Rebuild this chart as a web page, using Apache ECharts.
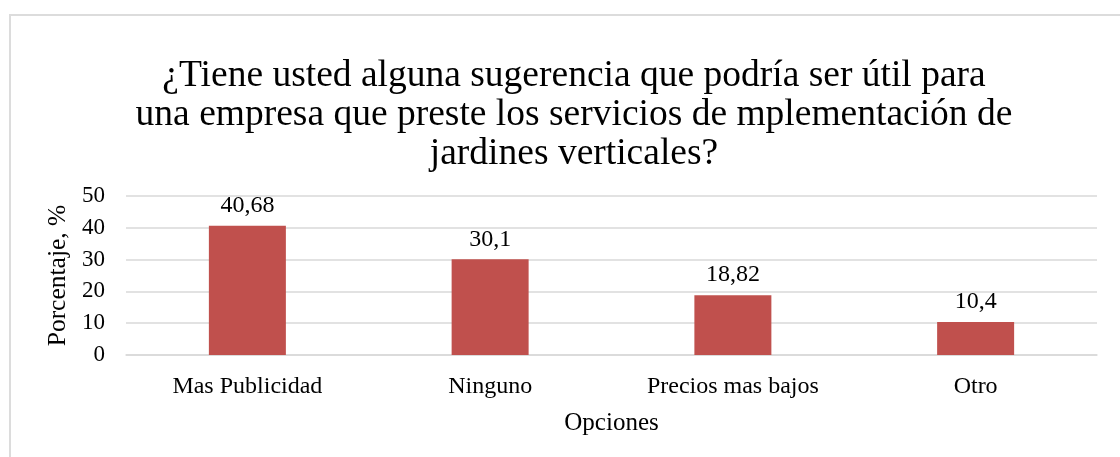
<!DOCTYPE html>
<html>
<head>
<meta charset="utf-8">
<script src="https://cdn.jsdelivr.net/npm/echarts@6/dist/echarts.min.js"></script>
<style>
  html, body { margin: 0; padding: 0; background: #fff; overflow: hidden; }
  #frame { position: absolute; left: 9px; top: 14px; width: 1200px; height: 600px; border: 2px solid #dcdcdc; }
  #chart { position: absolute; left: 0; top: 0; width: 1120px; height: 457px; }
</style>
</head>
<body>
<div id="frame"></div>
<div id="chart"></div>
<script>
// datos del gráfico
const categorias = ["Mas Publicidad", "Ninguno", "Precios mas bajos", "Otro"];
const porcentajes = [40.68, 30.1, 18.82, 10.4];
const titulo = "¿Tiene usted alguna sugerencia que podría ser útil para\nuna empresa que preste los servicios de mplementación de\njardines verticales?";

const fuente = "'Liberation Serif', 'DejaVu Serif', serif";

const chart = echarts.init(document.getElementById("chart"));
chart.setOption({
    animation: false,
    title: {
        text: titulo,
        left: 569,
        top: 52,
        textAlign: "center",
        textStyle: { fontFamily: fuente, fontSize: 37.5, fontWeight: "normal", color: "#000", lineHeight: 39 }
    },
    grid: { left: 126, right: 23, top: 196, bottom: 102 },
    xAxis: {
        type: "category",
        data: categorias,
        name: "Opciones",
        nameLocation: "middle",
        nameGap: 56,
        nameTextStyle: { fontFamily: fuente, fontSize: 25, color: "#000" },
        axisLine: { lineStyle: { color: "#d9d9d9", width: 1.5 } },
        axisTick: { show: false },
        axisLabel: { fontFamily: fuente, fontSize: 24, color: "#000", margin: 20 }
    },
    yAxis: {
        type: "value",
        min: 0,
        max: 50,
        interval: 10,
        name: "Porcentaje, %",
        nameLocation: "middle",
        nameGap: 53,
        nameTextStyle: { fontFamily: fuente, fontSize: 25.5, color: "#000" },
        axisLine: { show: false },
        axisTick: { show: false },
        axisLabel: { fontFamily: fuente, fontSize: 23, color: "#000", margin: 21 },
        splitLine: { lineStyle: { color: "#d9d9d9", width: 1.5 } }
    },
    series: [{
        type: "bar",
        data: porcentajes,
        barWidth: 77,
        itemStyle: { color: "#c0504d" },
        label: {
            show: true,
            position: "top",
            distance: 8,
            fontFamily: fuente,
            fontSize: 24,
            color: "#000",
            formatter: (p) => String(p.value).replace(".", ",")
        }
    }]
});
</script>
</body>
</html>
